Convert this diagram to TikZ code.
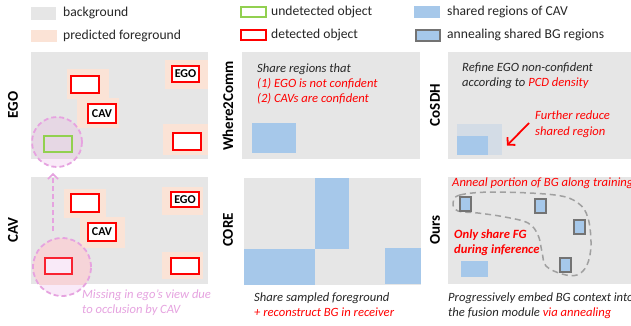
\documentclass[tikz,border=0pt]{standalone}
\usepackage{fontspec}
\setmainfont{Carlito}
\usetikzlibrary{arrows.meta,calc}
\definecolor{bggray}{HTML}{E6E6E6}
\definecolor{peach}{HTML}{FBE3D6}
\definecolor{sblue}{HTML}{A6C8EA}
\definecolor{dred}{HTML}{FF0000}
\definecolor{ugreen}{HTML}{92D050}
\definecolor{pinkv}{HTML}{E6A3E0}
\definecolor{bordergray}{HTML}{737373}
\definecolor{dashgray}{HTML}{A0A0A0}
\definecolor{lightsh}{HTML}{D3DCE6}
\definecolor{txtdark}{HTML}{262626}
\begin{document}
\begin{tikzpicture}[x=1pt,y=-1pt,
  sq/.style={rectangle,inner sep=0pt,outer sep=0pt,anchor=north west},
  rbox/.style={sq,draw=dred,line width=1.6pt,fill=white,font=\fontsize{12}{12}\selectfont\bfseries,text=black},
  abox/.style={sq,draw=bordergray,line width=2.8pt,fill=sblue,minimum width=11,minimum height=14},
  lgtext/.style={anchor=base west,inner sep=0pt,font=\fontsize{13.6}{16}\selectfont,text=txtdark},
  note/.style={anchor=base west,inner sep=0pt,font=\fontsize{12.6}{15}\selectfont\itshape,text=txtdark},
  rowlab/.style={rotate=90,inner sep=0pt,font=\fontsize{15}{15}\selectfont\bfseries,text=black},
  pinkcirc/.style={circle,inner sep=0pt,draw=pinkv,line width=1.8pt,dash pattern=on 5pt off 3pt}
]
\useasboundingbox (0,0) rectangle (631,325);
\fill[white] (0,0) rectangle (631,325);

% ---------- legend ----------
\node[sq,fill=bggray,minimum width=25,minimum height=13] (lg1) at (31,7) {};
\node[lgtext] (lg1t) at (63,16.5) {background};
\node[sq,fill=peach,minimum width=26,minimum height=12] (lg2) at (31,30) {};
\node[lgtext] (lg2t) at (63,39.5) {predicted foreground};
\node[sq,draw=ugreen,line width=1.5pt,fill=white,minimum width=25,minimum height=10] (lg3) at (241,7) {};
\node[lgtext] (lg3t) at (271,15.5) {undetected object};
\node[sq,draw=dred,line width=1.5pt,fill=white,minimum width=25,minimum height=10] (lg4) at (241,30) {};
\node[lgtext] (lg4t) at (271,38) {detected object};
\node[sq,fill=sblue,minimum width=26,minimum height=12] (lg5) at (414,6) {};
\node[lgtext] (lg5t) at (447,15.5) {shared regions of CAV};
\node[sq,draw=bordergray,line width=2.6pt,fill=sblue,minimum width=24,minimum height=11] (lg6) at (416,30) {};
\node[lgtext] (lg6t) at (447,38) {annealing shared BG regions};

% ---------- row labels ----------
\node[rowlab] (labego) at (13,105) {EGO};
\node[rowlab] (labcav) at (13,230) {CAV};
\node[rowlab] (labw2c) at (228,106) {Where2Comm};
\node[rowlab] (labcore) at (228,230) {CORE};
\node[rowlab] (labcosdh) at (435,105) {CoSDH};
\node[rowlab] (labours) at (435,230) {Ours};

% ---------- EGO panel ----------
\fill[bggray] (31,52) rectangle (208,159);
\fill[peach] (67,69) rectangle (109,99);
\fill[peach] (77,98) rectangle (119,128);
\fill[peach] (165,60) rectangle (208,89);
\fill[peach] (163,124) rectangle (208,155);
\node[rbox,minimum width=28,minimum height=17] (e1) at (71,76) {};
\node[rbox,minimum width=28,minimum height=19] (e2) at (88,104) {CAV};
\node[rbox,minimum width=27,minimum height=16] (e3) at (172,66) {EGO};
\node[rbox,minimum width=28,minimum height=17] (e4) at (173,133) {};
\node[pinkcirc,fill=pinkv,fill opacity=0.22,minimum size=50] (egoc) at (57,142) {};
\node[sq,draw=ugreen,line width=1.4pt,minimum width=28,minimum height=16] (egomiss) at (44,136) {};

% ---------- CAV panel ----------
\fill[bggray] (31,177) rectangle (208,284);
\fill[peach] (64,189) rectangle (106,218);
\fill[peach] (80,217) rectangle (125,248);
\fill[peach] (162,187) rectangle (203,215);
\fill[peach] (162,252) rectangle (203,279);
\begin{scope}
  \clip (31,177) rectangle (208,284);
  \fill[peach] (62,267) circle (29);
\end{scope}
\node[rbox,minimum width=28,minimum height=18] (c1) at (71,194) {};
\node[rbox,minimum width=28,minimum height=18] (c2) at (88,223) {CAV};
\node[rbox,minimum width=28,minimum height=15] (c3) at (171,192) {EGO};
\node[rbox,minimum width=28,minimum height=16] (c4) at (171,258) {};
\node[rbox,minimum width=27,minimum height=16] (c5) at (45,258) {};
\node[pinkcirc,fill=pinkv,fill opacity=0.22,minimum size=58] (cavc) at (62,267) {};
\draw[pinkv,line width=1.8pt,dash pattern=on 5pt off 3pt,-{Straight Barb[length=5pt,width=10pt,line width=1.6pt]}]
  ([xshift=-9pt,yshift=6pt]cavc.north) -- ([xshift=-4pt,yshift=-5pt]egoc.south);
\node[note,text=pinkv] (miss1) at (82,298) {Missing in ego's view due};
\node[note,text=pinkv] (miss2) at (82,313) {to occlusion by CAV};

% ---------- Where2Comm panel ----------
\fill[bggray] (242,52) rectangle (420,159);
\node[note] (w1) at (257,72) {Share regions that};
\node[note,text=dred] (w2) at (257,87) {(1) EGO is not confident};
\node[note,text=dred] (w3) at (257,102) {(2) CAVs are confident};
\node[sq,fill=sblue,minimum width=44,minimum height=30] (wshare) at (252,123) {};

% ---------- CORE panel ----------
\fill[bggray] (244,178) rectangle (421,285);
\fill[sblue] (315,178) rectangle (349,249);
\fill[sblue] (244,249) rectangle (315,285);
\fill[sblue] (385,248) rectangle (421,284);
\node[note] (k1) at (254,301) {Share sampled foreground};
\node[note,text=dred] (k2) at (254,316) {+ reconstruct BG in receiver};

% ---------- CoSDH panel ----------
\fill[bggray] (448,52) rectangle (631,159);
\node[note] (s1) at (462,71) {Refine EGO non-confident};
\node[note] (s2) at (462,86) {according to \textcolor{dred}{PCD density}};
\node[sq,fill=lightsh,minimum width=45,minimum height=31] (lsq) at (457,124) {};
\node[sq,fill=sblue,minimum width=31,minimum height=19] (ssq) at (457,136) {};
\node[note,text=dred] (s3) at (535,119) {Further reduce};
\node[note,text=dred] (s4) at (535,135) {shared region};
\coordinate (arrtail) at (529,123);
\draw[dred,line width=1.8pt,-{Straight Barb[length=5pt,width=11pt,line width=1.8pt]}]
  (arrtail) -- ([xshift=5pt,yshift=-6pt]lsq.east);

% ---------- Ours panel ----------
\fill[bggray] (448,177) rectangle (631,284);
\node[note,text=dred] (o1) at (452,186) {Anneal portion of BG along training};
\draw[dashgray,line width=1.5pt,dash pattern=on 6pt off 4pt]
  plot[smooth cycle,tension=0.6] coordinates {
   (453,203) (460,195) (495,192) (555,195) (578,203) (588,218) (591,245)
   (587,265) (577,275) (562,274) (546,266) (542,252) (538,235) (528,223)
   (505,217) (478,213) (458,211)};
\node[abox] (a1) at (460,197) {};
\node[abox] (a2) at (535,199) {};
\node[abox] (a3) at (574,220) {};
\node[abox] (a4) at (560,258) {};
\node[note,text=dred,font=\fontsize{12.6}{15}\selectfont\itshape\bfseries] (o2) at (454,238) {Only share FG};
\node[note,text=dred,font=\fontsize{12.6}{15}\selectfont\itshape\bfseries] (o3) at (454,253) {during inference};
\node[sq,fill=sblue,minimum width=27,minimum height=16] (ofg) at (461,261) {};
\node[note] (o4) at (448,301) {Progressively embed BG context into};
\node[note] (o5) at (448,316) {the fusion module \textcolor{dred}{via annealing}};
\end{tikzpicture}
\end{document}
